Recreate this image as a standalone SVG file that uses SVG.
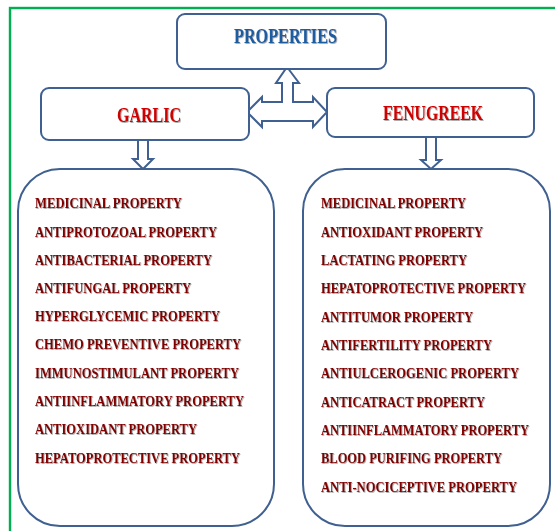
<svg xmlns="http://www.w3.org/2000/svg" width="555" height="531" viewBox="0 0 555 531">
  <defs>
    <filter id="sh" x="-5%" y="-30%" width="110%" height="160%">
      <feDropShadow dx="0.8" dy="0.8" stdDeviation="0.4" flood-color="#444" flood-opacity="0.55"/>
    </filter>
  </defs>
  <style>
    .box { fill: #ffffff; stroke: #3f6090; stroke-width: 2; }
    .arrow { fill: #ffffff; stroke: #3f6090; stroke-width: 2; stroke-linejoin: miter; }
    .title { font-family: "Liberation Serif", "Times New Roman", serif; font-weight: bold; font-size: 20px; filter: url(#sh); }
    .item { font-family: "Liberation Serif", "Times New Roman", serif; font-weight: bold; font-size: 14px; fill: #800000; filter: url(#sh); }
  </style>
  <rect width="555" height="531" fill="#ffffff"/>
  <rect x="10" y="8" width="560" height="540" fill="none" stroke="#00b050" stroke-width="2.4"/>

  <g id="connectors">
    <path class="arrow" d="M287,67 L299,83 L293,83 L293,102 L313,102 L313,97 L327,112 L313,127 L313,121 L262,121 L262,127 L247,112 L262,97 L262,102 L282,102 L282,83 L276,83 Z"/>
    <path class="arrow" d="M138,140 L148,140 L148,159 L153,159 L143,169 L133,159 L138,159 Z"/>
    <path class="arrow" d="M426,137 L436,137 L436,160 L441,160 L431,169 L421,160 L426,160 Z"/>
  </g>

  <g id="properties">
    <rect class="box" x="177" y="14" width="209" height="55" rx="8"/>
    <text class="title" x="234" y="43" fill="#1a5ca0" textLength="103" lengthAdjust="spacingAndGlyphs">PROPERTIES</text>
  </g>

  <g id="garlic">
    <rect class="box" x="41" y="88" width="208" height="52" rx="8"/>
    <text class="title" x="117" y="122" fill="#d00000" textLength="64" lengthAdjust="spacingAndGlyphs">GARLIC</text>
  </g>

  <g id="fenugreek">
    <rect class="box" x="327" y="88" width="207" height="49" rx="8"/>
    <text class="title" x="383" y="120" fill="#d00000" textLength="100" lengthAdjust="spacingAndGlyphs">FENUGREEK</text>
  </g>

  <g id="garlic-properties">
    <rect class="box" x="18" y="169" width="256" height="357" rx="42"/>
    <text class="item" x="35" y="208" textLength="147" lengthAdjust="spacingAndGlyphs">MEDICINAL PROPERTY</text>
    <text class="item" x="35" y="237" textLength="182" lengthAdjust="spacingAndGlyphs">ANTIPROTOZOAL PROPERTY</text>
    <text class="item" x="35" y="265" textLength="177" lengthAdjust="spacingAndGlyphs">ANTIBACTERIAL PROPERTY</text>
    <text class="item" x="35" y="293" textLength="156" lengthAdjust="spacingAndGlyphs">ANTIFUNGAL PROPERTY</text>
    <text class="item" x="35" y="321" textLength="185" lengthAdjust="spacingAndGlyphs">HYPERGLYCEMIC PROPERTY</text>
    <text class="item" x="35" y="349" textLength="206" lengthAdjust="spacingAndGlyphs">CHEMO PREVENTIVE PROPERTY</text>
    <text class="item" x="35" y="378" textLength="204" lengthAdjust="spacingAndGlyphs">IMMUNOSTIMULANT PROPERTY</text>
    <text class="item" x="35" y="406" textLength="209" lengthAdjust="spacingAndGlyphs">ANTIINFLAMMATORY PROPERTY</text>
    <text class="item" x="35" y="434" textLength="162" lengthAdjust="spacingAndGlyphs">ANTIOXIDANT PROPERTY</text>
    <text class="item" x="35" y="463" textLength="205" lengthAdjust="spacingAndGlyphs">HEPATOPROTECTIVE PROPERTY</text>
  </g>

  <g id="fenugreek-properties">
    <rect class="box" x="303" y="169" width="247" height="357" rx="42"/>
    <text class="item" x="321" y="208" textLength="145" lengthAdjust="spacingAndGlyphs">MEDICINAL PROPERTY</text>
    <text class="item" x="321" y="237" textLength="162" lengthAdjust="spacingAndGlyphs">ANTIOXIDANT PROPERTY</text>
    <text class="item" x="321" y="265" textLength="146" lengthAdjust="spacingAndGlyphs">LACTATING PROPERTY</text>
    <text class="item" x="321" y="293" textLength="205" lengthAdjust="spacingAndGlyphs">HEPATOPROTECTIVE PROPERTY</text>
    <text class="item" x="321" y="322" textLength="152" lengthAdjust="spacingAndGlyphs">ANTITUMOR PROPERTY</text>
    <text class="item" x="321" y="350" textLength="171" lengthAdjust="spacingAndGlyphs">ANTIFERTILITY PROPERTY</text>
    <text class="item" x="321" y="378" textLength="198" lengthAdjust="spacingAndGlyphs">ANTIULCEROGENIC PROPERTY</text>
    <text class="item" x="321" y="407" textLength="164" lengthAdjust="spacingAndGlyphs">ANTICATRACT PROPERTY</text>
    <text class="item" x="321" y="435" textLength="208" lengthAdjust="spacingAndGlyphs">ANTIINFLAMMATORY PROPERTY</text>
    <text class="item" x="321" y="463" textLength="181" lengthAdjust="spacingAndGlyphs">BLOOD PURIFING PROPERTY</text>
    <text class="item" x="321" y="492" textLength="196" lengthAdjust="spacingAndGlyphs">ANTI-NOCICEPTIVE PROPERTY</text>
  </g>
</svg>
